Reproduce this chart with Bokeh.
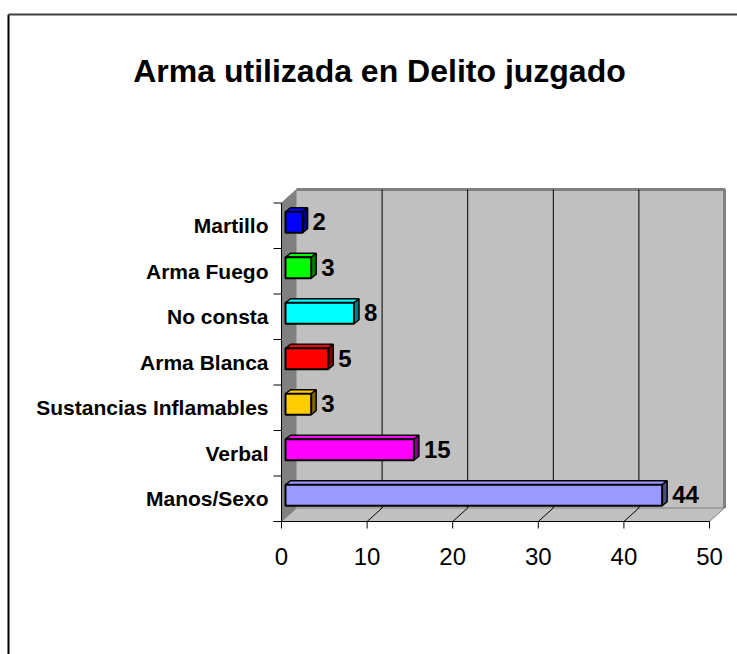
from bokeh.plotting import figure
from bokeh.models import Label
from bokeh.core.properties import value
from bokeh.embed import file_html
from bokeh.resources import INLINE

# ---- data (bottom to top) ----
categories = ["Manos/Sexo", "Verbal", "Sustancias Inflamables", "Arma Blanca",
              "No consta", "Arma Fuego", "Martillo"]
counts = [44, 15, 3, 5, 8, 3, 2]
colors = ["#9999FF", "#FF00FF", "#FFCC00", "#FF0000", "#00FFFF", "#00FF00", "#0000FF"]
side_colors = ["#4C4C80", "#800080", "#806600", "#800000", "#008080", "#008000", "#000080"]
ticks = [0, 10, 20, 30, 40, 50]
title_text = "Arma utilizada en Delito juzgado"

# ---- layout (pixels) ----
W, H = 737, 654
PX0 = 281.0      # frame x of value 0
SX = 8.56        # px per value unit
PY0 = 521.0      # frame y (from top) of category baseline
SY = 45.5        # px per category band
ncat = len(categories)
vmax = ticks[-1]

x_start, x_end = -PX0 / SX, (W - PX0) / SX
y_start, y_end = -(H - PY0) / SY, PY0 / SY

FONT = "Liberation Sans"

p = figure(width=W, height=H, x_range=(x_start, x_end), y_range=(y_start, y_end),
           x_axis_type=None, y_axis_type=None, toolbar_location=None,
           output_backend="svg", min_border=0, outline_line_color=None)
p.background_fill_color = "white"
p.border_fill_color = "white"

# depth offsets in data units
DXW, DYW = 15 / SX, 13.5 / SY          # wall depth
BFX, BFY = 4 / SX, 3.5 / SY            # bar front face offset
BDX, BDY = 5 / SX, 4 / SY              # bar depth
HH = 10.5 / SY                         # bar half-height

# chart border (left & top)
left_x = -(PX0 - 8) / SX
top_y = (PY0 - 14) / SY
p.line([left_x, left_x], [y_start, top_y], line_color="black", line_width=2)
p.line([left_x, x_end], [top_y, top_y], line_color="#404040", line_width=2)

# walls
p.patch([0, 0, DXW, DXW], [0, ncat, ncat + DYW, DYW], fill_color="#808080", line_color="#808080")
p.patch([DXW, vmax + DXW, vmax + DXW, DXW], [DYW, DYW, ncat + DYW, ncat + DYW],
        fill_color="#C0C0C0", line_color=None)
p.patch([0, vmax, vmax + DXW, DXW], [0, 0, DYW, DYW], fill_color="#C0C0C0", line_color="#808080")
p.line([DXW, vmax + DXW, vmax + DXW], [ncat + DYW, ncat + DYW, DYW], line_color="#808080", line_width=3)

# gridlines on back wall and floor
for t in ticks[1:-1]:
    p.line([t + DXW, t + DXW], [DYW, ncat + DYW], line_color="black", line_width=1)
    p.line([t, t + DXW], [0, DYW], line_color="black", line_width=1)

# axes
p.line([-8 / SX, vmax], [0, 0], line_color="black", line_width=1)
p.line([0, 0], [0, ncat], line_color="black", line_width=1)
for t in ticks:
    p.line([t, t], [0, -7 / SY], line_color="black", line_width=1)
for j in range(ncat + 1):
    p.line([0, -8 / SX], [j, j], line_color="black", line_width=1)

# bars
for i, v in enumerate(counts):
    yc = i + 0.5 + BFY
    y0, y1 = yc - HH, yc + HH
    x0, x1 = BFX, v + BFX
    p.patch([x0, x1, x1 + BDX, x0 + BDX], [y1, y1, y1 + BDY, y1 + BDY],
            fill_color=colors[i], line_color="black", line_width=1.5)
    p.patch([x1, x1 + BDX, x1 + BDX, x1], [y0, y0 + BDY, y1 + BDY, y1],
            fill_color=side_colors[i], line_color="black", line_width=1.5)
    p.patch([x0, x1, x1, x0], [y0, y0, y1, y1],
            fill_color=colors[i], line_color="black", line_width=2)

# value labels
p.text(x=[v + BFX + BDX for v in counts], y=[i + 0.5 for i in range(ncat)],
       text=[str(v) for v in counts], x_offset=5, y_offset=-4,
       text_font=value(FONT), text_font_style="bold", text_font_size="24px",
       text_align="left", text_baseline="middle", text_color="black")

# category labels
p.text(x=[0] * ncat, y=[i + 0.5 for i in range(ncat)], text=categories,
       x_offset=-13, text_font=value(FONT), text_font_style="bold",
       text_font_size="21px", text_align="right", text_baseline="middle",
       text_color="black")

# tick labels
p.text(x=ticks, y=[0] * len(ticks), text=[str(t) for t in ticks], y_offset=35,
       text_font=value(FONT), text_font_size="24px", text_align="center",
       text_baseline="middle", text_color="black")

# title
p.add_layout(Label(x=379, y=H - 70, x_units="screen", y_units="screen",
                   text=title_text, text_font=FONT, text_font_style="bold",
                   text_font_size="32px", text_align="center",
                   text_baseline="middle", text_color="black"))

open("out.html", "w").write(file_html(p, INLINE))
